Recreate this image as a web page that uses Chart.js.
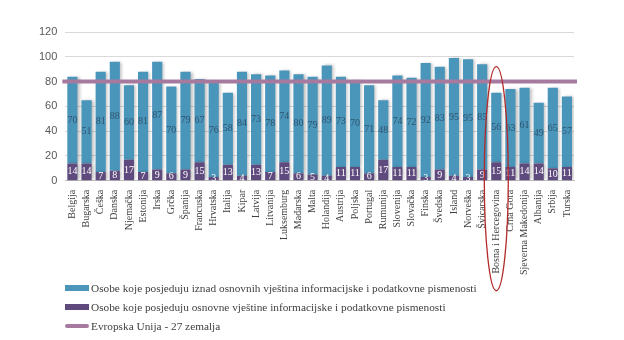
<!DOCTYPE html>
<html>
<head>
<meta charset="utf-8">
<script src="https://cdn.jsdelivr.net/npm/chart.js@4.4.1/dist/chart.umd.min.js"></script>
<style>
  html, body { margin: 0; padding: 0; background: #fff; }
  #wrap { position: relative; width: 624px; height: 340px; }
  canvas { position: absolute; left: 0; top: 0; }
  #legend { position: absolute; left: 65px; top: 278px; font-family: "Liberation Serif", "DejaVu Serif", serif; font-size: 11.3px; color: #404040; }
  .li { height: 19px; display: flex; align-items: center; }
  .sw { width: 24px; height: 6px; margin-right: 2px; }
</style>
</head>
<body>
<div id="wrap">
  <canvas id="c" width="624" height="340"></canvas>
  <div id="legend">
    <div class="li"><span class="sw" style="background:#4a95ba"></span>Osobe koje posjeduju iznad osnovnih vještina informacijske i podatkovne pismenosti</div>
    <div class="li"><span class="sw" style="background:#5e4a7c"></span>Osobe koje posjeduju osnovne vještine informacijske i podatkovne pismenosti</div>
    <div class="li"><span class="sw" style="background:#a67a9f;height:4px;border-radius:2px"></span>Evropska Unija - 27 zemalja</div>
  </div>
</div>
<script>
const countries = ["Belgija","Bugarska","Češka","Danska","Njemačka","Estonija","Irska","Grčka","Španija","Francuska","Hrvatska","Italija","Kipar","Latvija","Litvanija","Luksemburg","Mađarska","Malta","Holandija","Austrija","Poljska","Portugal","Rumunija","Slovenija","Slovačka","Finska","Švedska","Island","Norveška","Švicarska","Bosna i Hercegovina","Crna Gora","Sjeverna Makedonija","Albanija","Srbija","Turska"];
const basicSkills = [14,14,7,8,17,7,9,6,9,15,3,13,4,13,7,15,6,5,4,11,11,6,17,11,11,3,9,4,3,9,15,11,14,14,10,11];
const aboveBasic = [70,51,81,88,60,81,87,70,79,67,76,58,84,73,78,74,80,79,89,73,70,71,48,74,72,92,83,95,95,85,56,63,61,49,65,57];
const euAverage = 80;
const yTicks = [0,20,40,60,80,100,120];
const highlighted = "Bosna i Hercegovina";

const labelPlugin = {
  id: 'labels',
  afterDatasetsDraw(chart) {
    const ctx = chart.ctx;
    const ca = chart.chartArea;
    const y = chart.scales.y, x = chart.scales.x;
    // EU line
    ctx.save();
    ctx.strokeStyle = '#a67a9f';
    ctx.lineWidth = 4;
    ctx.beginPath();
    const ey = y.getPixelForValue(euAverage);
    ctx.moveTo(ca.left - 3, ey); ctx.lineTo(ca.right + 3, ey);
    ctx.stroke();
    ctx.restore();
    // data labels
    ctx.save();
    ctx.font = '10px "Liberation Serif", serif';
    ctx.textAlign = 'center';
    ctx.textBaseline = 'middle';
    chart.data.datasets.forEach((ds, di) => {
      const meta = chart.getDatasetMeta(di);
      meta.data.forEach((bar, i) => {
        const v = ds.data[i];
        const mid = (bar.y + bar.base) / 2;
        ctx.fillStyle = di === 0 ? '#ffffff' : '#2f5470';
        ctx.fillText(String(v), bar.x, mid);
      });
    });
    ctx.restore();
    // highlight ellipse
    const idx = countries.indexOf(highlighted);
    const cx = x.getPixelForValue(idx);
    const top = y.getPixelForValue(92);
    const bottom = ca.bottom + 110;
    ctx.save();
    ctx.strokeStyle = '#b22a2a';
    ctx.lineWidth = 1.3;
    ctx.beginPath();
    ctx.ellipse(cx, (top + bottom) / 2, 12, (bottom - top) / 2, 0, 0, Math.PI * 2);
    ctx.stroke();
    ctx.restore();
  }
};

const shadowPlugin = {
  id: 'shadow',
  beforeDatasetsDraw(chart) {
    const ctx = chart.ctx;
    ctx.save();
    ctx.shadowColor = 'rgba(0,0,0,0.25)';
    ctx.shadowBlur = 3;
    ctx.shadowOffsetX = 2;
    ctx.shadowOffsetY = 0;
  },
  afterDatasetsDraw(chart) {
    chart.ctx.restore();
  }
};

new Chart(document.getElementById('c'), {
  type: 'bar',
  data: {
    labels: countries,
    datasets: [
      { label: 'Osobe koje posjeduju osnovne vještine informacijske i podatkovne pismenosti', data: basicSkills, backgroundColor: '#5e4a7c', barPercentage: 0.72, categoryPercentage: 1 },
      { label: 'Osobe koje posjeduju iznad osnovnih vještina informacijske i podatkovne pismenosti', data: aboveBasic, backgroundColor: '#4a95ba', barPercentage: 0.72, categoryPercentage: 1 }
    ]
  },
  options: {
    responsive: false,
    animation: false,
    layout: { padding: { left: 31, right: 50, top: 32, bottom: 64 } },
    plugins: { legend: { display: false }, tooltip: { enabled: false } },
    scales: {
      x: {
        stacked: true,
        grid: { display: false },
        border: { color: '#bfbfbf' },
        ticks: { minRotation: 90, maxRotation: 90, autoSkip: false, padding: 1, color: '#404040', font: { family: '"Liberation Serif", serif', size: 10 } }
      },
      y: {
        stacked: true,
        min: 0, max: 120,
        afterBuildTicks(axis) { axis.ticks = yTicks.map(v => ({ value: v })); },
        grid: { color: '#d9d9d9', drawTicks: false },
        border: { display: false },
        ticks: { padding: 8, color: '#595959', font: { family: '"Liberation Sans", sans-serif', size: 11 } }
      }
    }
  },
  plugins: [shadowPlugin, labelPlugin]
});
</script>
</body>
</html>
